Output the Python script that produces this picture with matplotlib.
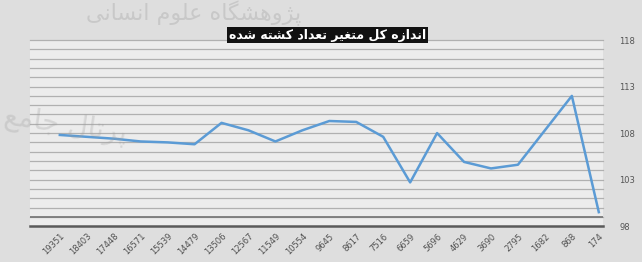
import matplotlib
matplotlib.use("Agg")
import matplotlib.pyplot as plt
import numpy as np

# ── data ───────────────────────────────────────────────────────────────────
labels = ["19351", "18403", "17448", "16571", "15539", "14479", "13506",
          "12567", "11549", "10554", "9645", "8617", "7516", "6659",
          "5696", "4629", "3690", "2795", "1682", "868", "174"]
values = [107.8, 107.6, 107.4, 107.1, 107.0, 106.8, 109.1, 108.3, 107.1,
          108.3, 109.3, 109.2, 107.6, 102.7, 108.0, 104.9, 104.2, 104.6,
          108.3, 112.0, 99.5]
yticks = [98, 103, 108, 113, 118]

TITLE = "اندازه کل متغیر تعداد کشته شده"
WM_TOP = "پژوهشگاه علوم انسانی"
WM_LOW = "پرتال جامع"

# minimal Persian shaper (presentation forms, visual order) since
# matplotlib does no Arabic shaping / bidi on its own
FORMS = {
    "ا": ("\uFE8D", "\uFE8E", None, None),
    "ب": ("\uFE8F", "\uFE90", "\uFE91", "\uFE92"),
    "پ": ("\uFB56", "\uFB57", "\uFB58", "\uFB59"),
    "ت": ("\uFE95", "\uFE96", "\uFE97", "\uFE98"),
    "ج": ("\uFE9D", "\uFE9E", "\uFE9F", "\uFEA0"),
    "د": ("\uFEA9", "\uFEAA", None, None),
    "ر": ("\uFEAD", "\uFEAE", None, None),
    "ز": ("\uFEAF", "\uFEB0", None, None),
    "ژ": ("\uFB8A", "\uFB8B", None, None),
    "س": ("\uFEB1", "\uFEB2", "\uFEB3", "\uFEB4"),
    "ش": ("\uFEB5", "\uFEB6", "\uFEB7", "\uFEB8"),
    "ع": ("\uFEC9", "\uFECA", "\uFECB", "\uFECC"),
    "غ": ("\uFECD", "\uFECE", "\uFECF", "\uFED0"),
    "ک": ("\uFB8E", "\uFB8F", "\uFB90", "\uFB91"),
    "گ": ("\uFB92", "\uFB93", "\uFB94", "\uFB95"),
    "ل": ("\uFEDD", "\uFEDE", "\uFEDF", "\uFEE0"),
    "م": ("\uFEE1", "\uFEE2", "\uFEE3", "\uFEE4"),
    "ن": ("\uFEE5", "\uFEE6", "\uFEE7", "\uFEE8"),
    "ه": ("\uFEE9", "\uFEEA", "\uFEEB", "\uFEEC"),
    "و": ("\uFEED", "\uFEEE", None, None),
    "ی": ("\uFBFC", "\uFBFD", "\uFBFE", "\uFBFF"),
}


def shape(text):
    words = []
    for w in text.split(" "):
        out = []
        for i, c in enumerate(w):
            f = FORMS[c]
            prev = i > 0 and FORMS[w[i - 1]][2] is not None
            nxt = f[2] is not None and i < len(w) - 1
            if prev and nxt:
                out.append(f[3])
            elif prev:
                out.append(f[1])
            elif nxt:
                out.append(f[2])
            else:
                out.append(f[0])
        words.append("".join(out))
    return " ".join(words)[::-1]


FONT = ["DejaVu Sans"]

fig = plt.figure(figsize=(6.42, 2.62), dpi=100, facecolor="#dedede")
ax = fig.add_axes([0.047, 0.137, 0.892, 0.71])
ax.set_facecolor("#ececec")

x = np.arange(len(values))
ax.set_xlim(-1.1, len(values) - 0.85)
ax.set_ylim(yticks[0], yticks[-1])

# dense horizontal grid, one line per unit
for yv in range(yticks[0] + 1, yticks[-1] + 1):
    ax.axhline(yv, color="#b0b0b0", lw=0.9, zorder=1, clip_on=False)
ax.axhline(yticks[0], color="#5a5a5a", lw=1.8, zorder=2, clip_on=False)
ax.axhline(yticks[0] + 1, color="#7a7a7a", lw=1.3, zorder=2)

ax.plot(x, values, color="#5b9bd5", lw=1.8, zorder=3)

for s in ax.spines.values():
    s.set_visible(False)
ax.yaxis.tick_right()
ax.set_yticks(yticks)
ax.set_yticklabels([str(v) for v in yticks], fontsize=6, color="#555555")
ax.tick_params(axis="y", length=0, pad=12)
ax.set_xticks(x)
ax.set_xticklabels(labels, rotation=45, ha="right", rotation_mode="anchor",
                   fontsize=6, color="#505050")
ax.tick_params(axis="x", length=0, pad=4)

# faint site watermark
fig.text(0.47, 0.95, shape(WM_TOP), family=FONT, fontsize=16,
         color="#a0a0a0", alpha=0.35, ha="right", va="center")
fig.text(0.2, 0.52, shape(WM_LOW), family=FONT, fontsize=20,
         color="#a0a0a0", alpha=0.3, ha="right", va="center", rotation=-8)

# title in a black box
fig.text(0.51, 0.865, shape(TITLE), family=FONT, fontsize=9,
         color="white", fontweight="bold", ha="center", va="center",
         bbox=dict(boxstyle="square,pad=0.12", facecolor="#111111",
                   edgecolor="none"))

fig.savefig("out.png", dpi=100, facecolor=fig.get_facecolor())
